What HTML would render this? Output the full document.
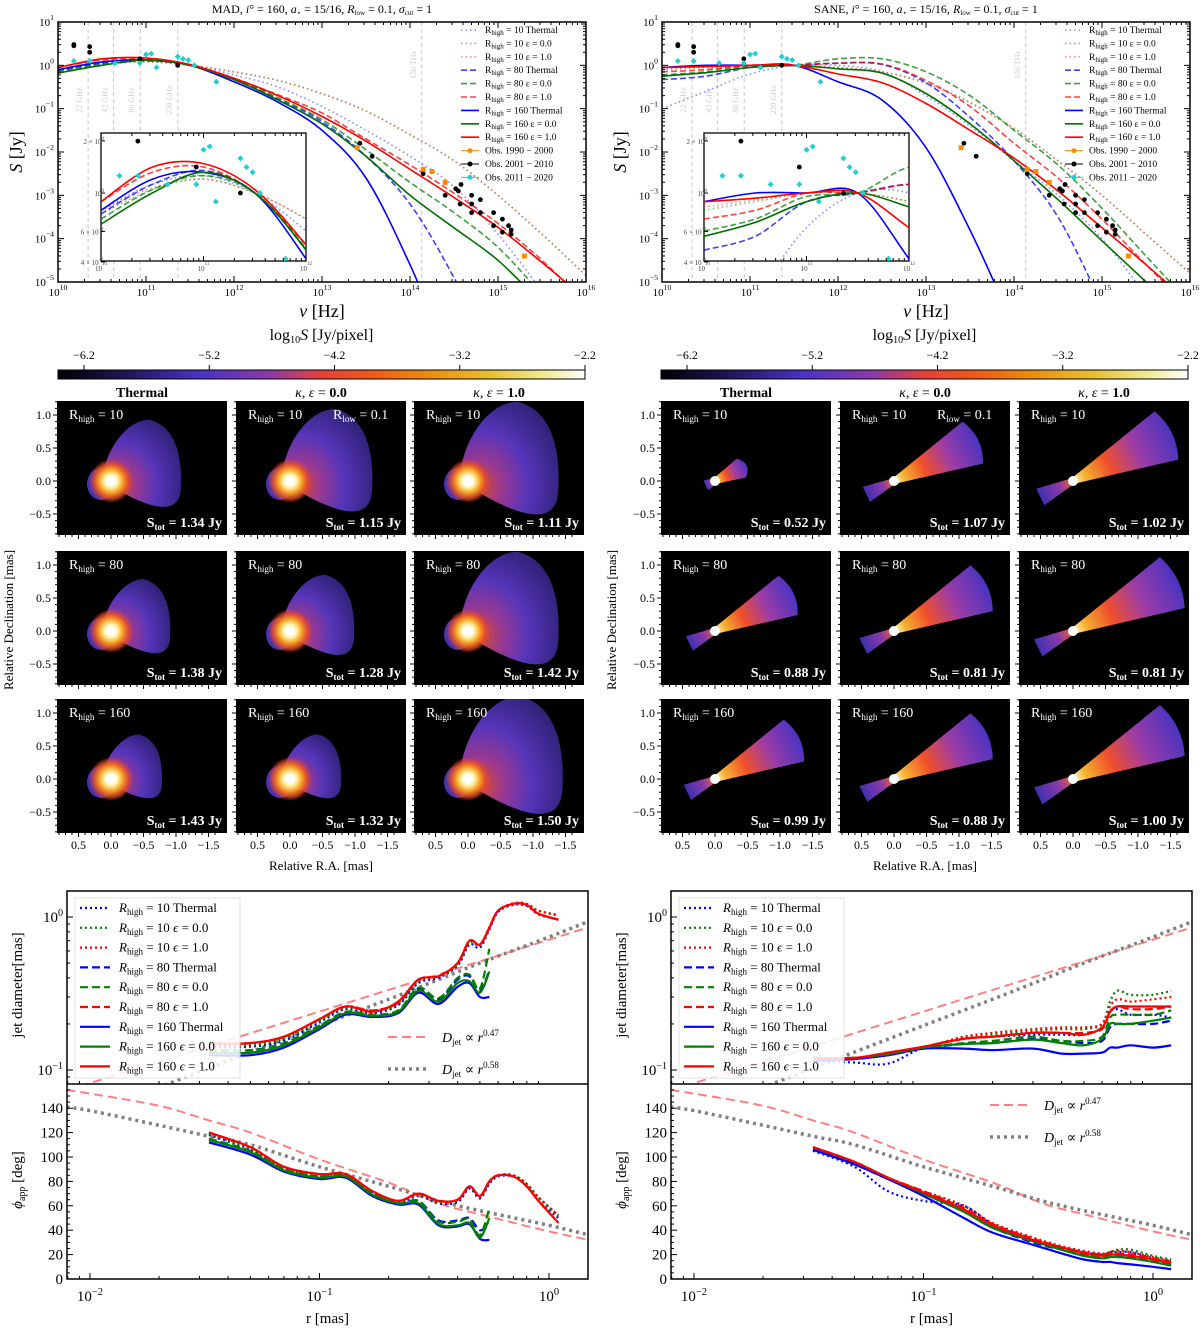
<!DOCTYPE html>
<html><head><meta charset="utf-8"><title>M87 jet models</title>
<style>
html,body{margin:0;padding:0;background:#fff;}
svg{display:block;font-family:"Liberation Serif","DejaVu Serif",serif;}
</style></head>
<body>
<svg id="fig" xmlns="http://www.w3.org/2000/svg" width="1200" height="1331" viewBox="0 0 1200 1331">
<defs>
<linearGradient id="cbar" x1="0" x2="1" y1="0" y2="0">
<stop offset="0" stop-color="#000004"/><stop offset="0.12" stop-color="#1c1450"/><stop offset="0.27" stop-color="#4a32c8"/>
<stop offset="0.4" stop-color="#8a3aa8"/><stop offset="0.5" stop-color="#e8403a"/><stop offset="0.6" stop-color="#f05a18"/>
<stop offset="0.7" stop-color="#ec8c08"/><stop offset="0.82" stop-color="#e8c030"/><stop offset="0.93" stop-color="#f2ec9c"/><stop offset="1" stop-color="#ffffff"/>
</linearGradient>
<radialGradient id="fanG" cx="0.2" cy="0.75" r="0.9">
<stop offset="0" stop-color="#e8502a"/><stop offset="0.25" stop-color="#a23c98"/><stop offset="0.55" stop-color="#5a38c4"/><stop offset="1" stop-color="#3a2890" stop-opacity="0.85"/>
</radialGradient>
<radialGradient id="coreG">
<stop offset="0" stop-color="#ffffff"/><stop offset="0.3" stop-color="#fff4b0"/><stop offset="0.55" stop-color="#f5a020"/><stop offset="0.8" stop-color="#e84a2a" stop-opacity="0.8"/><stop offset="1" stop-color="#e84a2a" stop-opacity="0"/>
</radialGradient>
<linearGradient id="jetG" x1="0" x2="1" y1="0" y2="0">
<stop offset="0" stop-color="#fff6c0"/><stop offset="0.12" stop-color="#f4b030"/><stop offset="0.35" stop-color="#f0502a"/><stop offset="0.65" stop-color="#9a3ca8"/><stop offset="1" stop-color="#4a34c0"/>
</linearGradient>
<linearGradient id="cjetG" x1="1" x2="0" y1="0" y2="0">
<stop offset="0" stop-color="#f06030"/><stop offset="0.4" stop-color="#8a3aa8"/><stop offset="1" stop-color="#4030b0"/>
</linearGradient>
</defs>
</svg>
<script>
// ---------------- DATA ----------------
const nuGrid = [10,10.5,11,11.5,12,12.5,13,13.5,14,14.5,15,15.5,16];
const seriesNames = ["R10 Thermal","R10 e0","R10 e1","R80 Thermal","R80 e0","R80 e1","R160 Thermal","R160 e0","R160 e1"];
const madSED_r10th = [-0.1,0.05,0.1,0.0,-0.22,-0.5,-0.95,-1.5,-2.1,-2.8,-3.9,-5.2,-6.5];
const madSED_r10e0 = [-0.12,0.02,0.08,0.0,-0.15,-0.35,-0.65,-1.05,-1.6,-2.2,-3.0,-3.9,-4.85];
const madSED_r10e1 = [-0.1,0.03,0.08,0.0,-0.15,-0.35,-0.66,-1.06,-1.6,-2.2,-3.0,-3.9,-4.85];
const madSED_r80th = [-0.12,0.05,0.13,0.0,-0.33,-0.78,-1.3,-2.1,-3.2,-4.9,-7,-9,-11];
const madSED_r80e0 = [-0.15,0.02,0.1,0.0,-0.32,-0.75,-1.25,-1.95,-2.7,-3.4,-4.2,-5.3,-6.5];
const madSED_r80e1 = [-0.05,0.12,0.15,0.0,-0.3,-0.68,-1.1,-1.7,-2.3,-2.95,-3.65,-4.5,-5.5];
const madSED_r160th = [-0.1,0.08,0.12,0.0,-0.38,-0.85,-1.5,-2.6,-4.6,-7,-9,-11,-13];
const madSED_r160e0 = [-0.18,0.0,0.12,0.0,-0.33,-0.8,-1.35,-2.1,-3.0,-3.75,-4.5,-5.5,-6.5];
const madSED_r160e1 = [-0.05,0.15,0.17,0.02,-0.3,-0.7,-1.18,-1.75,-2.4,-3.05,-3.74,-4.55,-5.4];
const saneSED_r10th = [-1.0,-0.6,-0.2,0.0,0.0,-0.15,-0.7,-1.4,-2.2,-3.0,-4.0,-5.3,-6.5];
const saneSED_r10e0 = [-0.1,-0.05,0.0,0.0,-0.05,-0.15,-0.4,-0.85,-1.45,-2.2,-3.0,-3.9,-4.8];
const saneSED_r10e1 = [-0.08,-0.04,0.0,0.0,-0.05,-0.15,-0.42,-0.87,-1.47,-2.2,-3.0,-3.9,-4.8];
const saneSED_r80th = [-0.33,-0.25,-0.05,0.0,0.05,0.02,-0.4,-1.2,-2.2,-3.5,-5.5,-7.5,-9.5];
const saneSED_r80e0 = [-0.22,-0.15,-0.02,0.0,0.15,0.15,-0.15,-0.7,-1.5,-2.3,-3.3,-4.4,-5.5];
const saneSED_r80e1 = [-0.15,-0.1,0.0,0.0,0.05,0.03,-0.35,-0.95,-1.8,-2.6,-3.55,-4.6,-5.6];
const saneSED_r160th = [-0.05,0.0,0.0,0.0,-0.38,-0.8,-1.9,-3.8,-6,-8,-10,-12,-14];
const saneSED_r160e0 = [-0.25,-0.17,-0.05,0.0,-0.08,-0.18,-0.65,-1.35,-2.2,-3.1,-4.05,-5.0,-6];
const saneSED_r160e1 = [-0.05,-0.03,0.0,0.0,-0.2,-0.4,-0.88,-1.5,-2.14,-2.9,-3.75,-4.6,-5.5];
// observations (log nu, log S)
const obsBlackNu = [10.18,10.18,10.36,10.36,10.93,11.36,13.43,13.57,14.15,14.4,14.52,14.55,14.57,14.58,14.7,14.7,14.7,14.8,14.8,14.95,14.95,15.05,15.05,15.12,15.15,15.15];
const obsBlackS  = [0.45,0.48,0.43,0.3,0.15,0.0,-1.8,-2.1,-2.5,-3.0,-2.85,-2.9,-3.2,-2.75,-3.0,-3.2,-3.4,-3.1,-3.4,-3.4,-3.7,-3.55,-3.85,-3.7,-3.9,-3.8];
const obsOrangeNu = [13.4,14.15,14.25,14.4,15.3];
const obsOrangeS  = [-1.9,-2.4,-2.45,-2.7,-4.4];
const obsCyanNu = [10.18,10.36,10.65,10.93,11.0,11.06,11.12,11.36,11.42,11.48,11.55,11.8];
const obsCyanS  = [0.1,0.1,0.05,0.05,0.25,0.27,-0.05,0.2,0.15,0.12,0.0,-0.38];
const refFreqs = [10.342,10.633,10.934,11.362,14.134];
const refFreqLabels = ["22 GHz","43 GHz","86 GHz","230 GHz","136 THz"];
// images
const madStot = ["1.34","1.15","1.11","1.38","1.28","1.42","1.43","1.32","1.50"];
const saneStot = ["0.52","1.07","1.02","0.88","0.81","0.81","0.99","0.88","1.00"];
const rhighVals = ["10","80","160"];
const madFanSize = [0.85,1.0,1.1,0.72,0.78,1.1,0.62,0.62,1.15];
const saneJetLen = [0.45,1.35,1.6,1.25,1.5,1.7,1.35,1.5,1.7];
// jet diameter / opening angle
const rLeft = [0.033,0.05,0.07,0.1,0.13,0.17,0.22,0.27,0.33,0.4,0.45,0.5,0.55,0.6,0.7,0.8,0.9,1.1];
const madD_r10th = [0.14,0.142,0.155,0.205,0.25,0.235,0.265,0.37,0.4,0.48,0.66,0.63,0.83,1.08,1.2,1.18,1.04,0.96];
const madD_r10e0 = [0.145,0.145,0.16,0.21,0.255,0.24,0.27,0.38,0.405,0.49,0.68,0.65,0.85,1.1,1.22,1.22,1.1,1.02];
const madD_r10e1 = [0.15,0.15,0.165,0.215,0.26,0.245,0.275,0.39,0.41,0.5,0.7,0.66,0.86,1.1,1.23,1.22,1.1,1.03];
const madD_r80th = [0.13,0.13,0.145,0.19,0.235,0.228,0.24,0.34,0.29,0.39,0.41,0.33,0.45,null,null,null,null,null];
const madD_r80e0 = [0.135,0.135,0.15,0.195,0.24,0.23,0.245,0.345,0.295,0.4,0.42,0.34,0.62,null,null,null,null,null];
const madD_r80e1 = [0.148,0.15,0.165,0.215,0.26,0.245,0.275,0.39,0.41,0.5,0.7,0.66,0.85,1.1,1.22,1.2,1.05,0.96];
const madD_r160th = [0.125,0.125,0.14,0.185,0.23,0.222,0.235,0.32,0.27,0.35,0.37,0.3,0.3,null,null,null,null,null];
const madD_r160e0 = [0.13,0.13,0.145,0.19,0.235,0.226,0.24,0.33,0.28,0.37,0.38,0.32,0.44,null,null,null,null,null];
const madD_r160e1 = [0.148,0.15,0.165,0.215,0.26,0.24,0.28,0.39,0.41,0.5,0.7,0.66,0.85,1.1,1.22,1.2,1.05,0.96];
const madP_r10th = [118,106,90,84,84,70,62,68,62,63,74,66,78,84,84,76,64,50];
const madP_r10e0 = [119,107,91,85,85,71,63,69,63,64,75,67,79,85,85,78,67,52];
const madP_r10e1 = [120,108,92,86,86,72,64,70,64,65,76,68,80,85,85,78,67,52];
const madP_r80th = [114,104,89,83,84,70,62,64,48,48,50,40,45,null,null,null,null,null];
const madP_r80e0 = [115,105,90,84,85,70,62,64,47,47,49,36,58,null,null,null,null,null];
const madP_r80e1 = [120,108,92,86,86,72,64,70,64,65,76,68,80,85,84,76,64,46];
const madP_r160th = [112,102,88,82,83,68,61,61,44,43,45,33,32,null,null,null,null,null];
const madP_r160e0 = [114,104,89,83,84,69,62,62,45,44,46,34,50,null,null,null,null,null];
const madP_r160e1 = [120,108,92,86,86,72,64,70,64,65,76,68,80,85,84,76,64,46];
const rRight = [0.033,0.05,0.07,0.1,0.15,0.2,0.3,0.4,0.5,0.6,0.65,0.7,0.8,1.0,1.2];
const saneD_r10th = [0.115,0.112,0.11,0.14,0.16,0.165,0.17,0.17,0.17,0.19,0.24,0.25,0.23,0.23,0.22];
const saneD_r10e0 = [0.12,0.12,0.125,0.14,0.165,0.17,0.18,0.185,0.185,0.2,0.28,0.33,0.31,0.31,0.33];
const saneD_r10e1 = [0.12,0.12,0.125,0.14,0.165,0.175,0.185,0.19,0.19,0.2,0.26,0.29,0.28,0.29,0.3];
const saneD_r80th = [0.115,0.118,0.125,0.138,0.148,0.15,0.16,0.155,0.15,0.155,0.19,0.2,0.2,0.2,0.21];
const saneD_r80e0 = [0.12,0.12,0.127,0.14,0.15,0.155,0.165,0.155,0.155,0.165,0.22,0.23,0.23,0.23,0.245];
const saneD_r80e1 = [0.12,0.12,0.128,0.142,0.16,0.165,0.175,0.175,0.175,0.185,0.24,0.26,0.25,0.25,0.26];
const saneD_r160th = [0.115,0.118,0.125,0.138,0.138,0.135,0.138,0.128,0.128,0.13,0.14,0.14,0.145,0.14,0.145];
const saneD_r160e0 = [0.12,0.12,0.127,0.14,0.148,0.15,0.158,0.15,0.145,0.16,0.2,0.2,0.2,0.21,0.22];
const saneD_r160e1 = [0.12,0.12,0.13,0.142,0.16,0.165,0.175,0.175,0.17,0.19,0.24,0.26,0.26,0.26,0.26];
const saneP_r10th = [105,92,72,64,60,45,32,26,22,20,22,22,22,17,14];
const saneP_r10e0 = [108,96,83,72,60,45,33,26,22,20,22,24,24,19,16];
const saneP_r10e1 = [108,96,83,72,60,46,34,27,23,21,22,23,22,18,15];
const saneP_r80th = [106,94,82,70,56,42,30,24,19,17,18,19,18,15,12];
const saneP_r80e0 = [108,96,83,71,57,43,31,25,20,18,19,20,19,16,13];
const saneP_r80e1 = [108,96,83,72,58,45,33,26,22,20,21,21,20,17,14];
const saneP_r160th = [106,94,82,68,50,38,28,21,16,14,14,13,12,10,8];
const saneP_r160e0 = [108,96,83,70,55,42,31,24,19,17,18,18,17,14,11];
const saneP_r160e1 = [108,96,83,71,57,44,32,26,21,19,20,20,19,16,13];
const refR = [0.0079,0.01,0.02,0.033,0.05,0.1,0.2,0.33,0.5,1.0,1.5];
const refDred = [0.073,0.082,0.113,0.143,0.174,0.241,0.334,0.422,0.513,0.711,0.86];
const refDgray = [0.045,0.051,0.077,0.103,0.131,0.195,0.29,0.39,0.50,0.74,0.94];
const refPhiRed = [155,152,142,130,120,98,79,62,53,39,32];
const refPhiGray = [141,138,126,117,110,92,76,64,56,44,36];

// ---------------- HELPERS ----------------
const NS = "http://www.w3.org/2000/svg";
const svg = document.getElementById('fig');
function el(tag, attrs, parent){ const e=document.createElementNS(NS,tag); for(const k in attrs) e.setAttribute(k,attrs[k]); (parent||svg).appendChild(e); return e; }
function nm(e, name){
  
  
  return e;
}
function txt(x,y,html,size,anchor,parent,extra){ const t=el('text',Object.assign({x:x,y:y,'font-size':size,'text-anchor':anchor||'middle',fill:'#000'},extra||{}),parent); t.innerHTML=html; return t; }
function crPath(pts){
  if(pts.length<2) return '';
  let d='M'+pts[0][0].toFixed(1)+','+pts[0][1].toFixed(1);
  for(let i=0;i<pts.length-1;i++){
    const p0=pts[i-1]||pts[i], p1=pts[i], p2=pts[i+1], p3=pts[i+2]||p2;
    const c1x=p1[0]+(p2[0]-p0[0])/6, c1y=p1[1]+(p2[1]-p0[1])/6, c2x=p2[0]-(p3[0]-p1[0])/6, c2y=p2[1]-(p3[1]-p1[1])/6;
    d+=' C'+c1x.toFixed(1)+','+c1y.toFixed(1)+' '+c2x.toFixed(1)+','+c2y.toFixed(1)+' '+p2[0].toFixed(1)+','+p2[1].toFixed(1);
  }
  return d;
}
const sup = (b,e)=> b+'<tspan dy="-6" font-size="0.7em">'+e+'</tspan>';
const styles = [
 {c:'#3a3aff',dash:'1.5,3',op:0.6},{c:'#1e9a1e',dash:'1.5,3',op:0.6},{c:'#ff4040',dash:'1.5,3',op:0.6},
 {c:'#0000ff',dash:'6,3',op:0.75},{c:'#008000',dash:'6,3',op:0.75},{c:'#ff0000',dash:'6,3',op:0.75},
 {c:'#0000ff',dash:'',op:1},{c:'#007000',dash:'',op:1},{c:'#ff0000',dash:'',op:1}];
const legendLabels = ["10 Thermal","10 ε = 0.0","10 ε = 1.0","80 Thermal","80 ε = 0.0","80 ε = 1.0","160 Thermal","160 ε = 0.0","160 ε = 1.0"];
let clipId=0;
function clip(x,y,w,h){ const id='cp'+(clipId++); const cp=el('clipPath',{id:id},svg.querySelector('defs')); el('rect',{x:x,y:y,width:w,height:h},cp); return 'url(#'+id+')'; }

// ---------------- SED PANEL ----------------
function drawSED(ox, title, series, prefix, inset){
  const g=nm(el('g',{}), prefix+'-sed-panel');
  const L=ox, R=ox+528, T=22, B=282;
  const X=l=>L+(l-10)*(R-L)/6, Y=s=>T+(1-s)*(B-T)/6;
  nm(txt((L+R)/2,13,title,12,'middle',g),prefix+'-sed-title');
  refFreqs.forEach((f,i)=>{
    const ln=el('line',{x1:X(f),x2:X(f),y1:T,y2:B,stroke:'#bbb','stroke-width':0.8,'stroke-dasharray':'4,3'},g);
    nm(ln,'ref-line-'+refFreqLabels[i].replace(' ','-'));
    const yl = i<4?100:65;
    nm(txt(X(f)-6,yl,refFreqLabels[i],8,'middle',g,{fill:'#ccc',transform:'rotate(-90 '+(X(f)-6)+' '+yl+')'}),'ref-label');
  });
  const cpath=clip(L,T,R-L,B-T);
  const cg=el('g',{'clip-path':cpath},g);
  series.forEach((s,i)=>{
    const pts=nuGrid.map((n,j)=>[X(n),Y(s[j])]);
    const p=el('path',{d:crPath(pts),fill:'none',stroke:styles[i].c,'stroke-width':1.6,'stroke-dasharray':styles[i].dash,opacity:styles[i].op},cg);
    nm(p,prefix+'-sed-'+seriesNames[i].replace(/ /g,'-').toLowerCase());
  });
  drawObs(cg,X,Y,prefix);
  nm(el('rect',{x:L,y:T,width:R-L,height:B-T,fill:'none',stroke:'#000','stroke-width':1.5},g),prefix+'-sed-frame');
  for(let d=10;d<=16;d++){
    el('line',{x1:X(d),x2:X(d),y1:B,y2:B-6,stroke:'#000'},g); el('line',{x1:X(d),x2:X(d),y1:T,y2:T+6,stroke:'#000'},g);
    nm(txt(X(d),B+14,sup('10',d),11,'middle',g),'x-tick-label');
    if(d<16) for(let m=2;m<10;m++){ const xx=X(d+Math.log10(m)); el('line',{x1:xx,x2:xx,y1:B,y2:B-3,stroke:'#000'},g); el('line',{x1:xx,x2:xx,y1:T,y2:T+3,stroke:'#000'},g);}
  }
  for(let e=-5;e<=1;e++){
    el('line',{x1:L,x2:L+6,y1:Y(e),y2:Y(e),stroke:'#000'},g); el('line',{x1:R,x2:R-6,y1:Y(e),y2:Y(e),stroke:'#000'},g);
    nm(txt(L-4,Y(e)+4,sup('10',e<0?'−'+(-e):e),11,'end',g),'y-tick-label');
    if(e<1) for(let m=2;m<10;m++){ const yy=Y(e+Math.log10(m)); el('line',{x1:L,x2:L+3,y1:yy,y2:yy,stroke:'#000'},g); el('line',{x1:R,x2:R-3,y1:yy,y2:yy,stroke:'#000'},g);}
  }
  nm(txt((L+R)/2,317,'<tspan font-style="italic">ν</tspan> [Hz]',18,'middle',g),prefix+'-x-axis-title');
  nm(txt(ox-36,152,'<tspan font-style="italic">S</tspan> [Jy]',18,'middle',g,{transform:'rotate(-90 '+(ox-36)+' 152)'}),prefix+'-y-axis-title');
  const lx=R-125;
  series.forEach((s,i)=>{
    const y=33+i*13.4;
    nm(el('line',{x1:lx,x2:lx+18,y1:y-3,y2:y-3,stroke:styles[i].c,'stroke-width':1.6,'stroke-dasharray':styles[i].dash,opacity:styles[i].op},g),'legend-swatch');
    nm(txt(lx+24,y,'R<tspan font-size="7" dy="2">high</tspan><tspan dy="-2"> = '+legendLabels[i]+'</tspan>',9.5,'start',g),'legend-entry');
  });
  const obsL=[['#ff8c00','Obs. 1990 − 2000'],['#000','Obs. 2001 − 2010'],['#20d0d0','Obs. 2011 − 2020']];
  obsL.forEach((o,i)=>{ const y=33+(9+i)*13.4;
    el('line',{x1:lx,x2:lx+18,y1:y-3,y2:y-3,stroke:o[0],'stroke-width':1},g); el('circle',{cx:lx+9,cy:y-3,r:2.5,fill:o[0]},g);
    nm(txt(lx+24,y,o[1],9.5,'start',g),'legend-entry-obs'); });
  const iL=inset, iR=inset+205, iT=133, iB=261;
  const IX=l=>iL+(l-10)*(iR-iL)/2, IY=s=>iT+(0.347-s)*173;
  nm(el('rect',{x:iL,y:iT,width:iR-iL,height:iB-iT,fill:'#fff',stroke:'#000','stroke-width':1.3},g),prefix+'-inset');
  const ig=el('g',{'clip-path':clip(iL,iT,iR-iL,iB-iT)},g);
  series.forEach((s,i)=>{
    const pts=nuGrid.slice(0,6).map((n,j)=>[IX(n),IY(s[j])]);
    const p=el('path',{d:crPath(pts),fill:'none',stroke:styles[i].c,'stroke-width':1.6,'stroke-dasharray':styles[i].dash,opacity:styles[i].op},ig);
    nm(p,prefix+'-inset-'+seriesNames[i].replace(/ /g,'-').toLowerCase());
  });
  drawObs(ig,IX,IY,prefix);
  for(let d=10;d<=12;d++){ nm(txt(IX(d),iB+10,sup('10',d),7,'middle',g,{fill:'#444'}),'inset-x-tick');
    if(d<12) for(let m=1;m<10;m++){ const xx=IX(d+Math.log10(m)); el('line',{x1:xx,x2:xx,y1:iB,y2:iB-(m==1?5:3),stroke:'#000'},g); el('line',{x1:xx,x2:xx,y1:iT,y2:iT+(m==1?5:3),stroke:'#000'},g);} }
  [[0.301,'2 × 10<tspan dy="-4" font-size="5">0</tspan>'],[0,'10<tspan dy="-4" font-size="5">0</tspan>'],[-0.222,'6 × 10<tspan dy="-4" font-size="5">−1</tspan>'],[-0.398,'4 × 10<tspan dy="-4" font-size="5">−1</tspan>']].forEach(t=>{
    el('line',{x1:iL,x2:iL+4,y1:IY(t[0]),y2:IY(t[0]),stroke:'#000'},g);
    nm(txt(iL+3,IY(t[0])+3,t[1],7,'end',g,{fill:'#444'}),'inset-y-tick'); });
}
function drawObs(g,X,Y,prefix){
  obsBlackNu.forEach((n,i)=>{ const c=el('circle',{cx:X(n),cy:Y(obsBlackS[i]),r:2.4,fill:'#000'},g);
    nm(c,'obs-2001-2010'); });
  obsOrangeNu.forEach((n,i)=>{ const c=el('rect',{x:X(n)-2.5,y:Y(obsOrangeS[i])-2.5,width:5,height:5,fill:'#ff8c00'},g);
    nm(c,'obs-1990-2000'); });
  obsCyanNu.forEach((n,i)=>{ const c=el('path',{d:'M'+X(n)+','+(Y(obsCyanS[i])-3)+' l3,3 l-3,3 l-3,-3z',fill:'#20d0d0'},g);
    nm(c,'obs-2011-2020'); });
}
drawSED(58,'MAD, <tspan font-style="italic">i</tspan>° = 160, <tspan font-style="italic">a</tspan><tspan font-size="7" dy="2">⋆</tspan><tspan dy="-2"> = 15/16, </tspan><tspan font-style="italic">R</tspan><tspan font-size="7" dy="2">low</tspan><tspan dy="-2"> = 0.1, </tspan><tspan font-style="italic">σ</tspan><tspan font-size="7" dy="2">cut</tspan><tspan dy="-2"> = 1</tspan>',
  [madSED_r10th,madSED_r10e0,madSED_r10e1,madSED_r80th,madSED_r80e0,madSED_r80e1,madSED_r160th,madSED_r160e0,madSED_r160e1],'mad',101);
drawSED(662,'SANE, <tspan font-style="italic">i</tspan>° = 160, <tspan font-style="italic">a</tspan><tspan font-size="7" dy="2">⋆</tspan><tspan dy="-2"> = 15/16, </tspan><tspan font-style="italic">R</tspan><tspan font-size="7" dy="2">low</tspan><tspan dy="-2"> = 0.1, </tspan><tspan font-style="italic">σ</tspan><tspan font-size="7" dy="2">cut</tspan><tspan dy="-2"> = 1</tspan>',
  [saneSED_r10th,saneSED_r10e0,saneSED_r10e1,saneSED_r80th,saneSED_r80e0,saneSED_r80e1,saneSED_r160th,saneSED_r160e0,saneSED_r160e1],'sane',704);

// ---------------- COLORBARS & IMAGES ----------------
const cbTicks = ["−6.2","−5.2","−4.2","−3.2","−2.2"];
function drawImages(ox, cols, prefix, isMad){
  const g=nm(el('g',{}),prefix+'-image-grid');
  const cbL=ox, cbR=ox+527;
  nm(txt((cbL+cbR)/2,340,'log<tspan font-size="10" dy="3">10</tspan><tspan dy="-3" font-style="italic">S</tspan> [Jy/pixel]',16,'middle',g),prefix+'-colorbar-label');
  nm(el('rect',{x:cbL,y:370,width:cbR-cbL,height:9,fill:'url(#cbar)',stroke:'#000','stroke-width':1},g),prefix+'-colorbar');
  cbTicks.forEach((t,i)=>{ const x=cbL+26+i*(cbR-cbL-26)/4; el('line',{x1:x,x2:x,y1:365,y2:370,stroke:'#000'},g);
    nm(txt(x,359,t,12,'middle',g),'colorbar-tick'); });
  const heads=['<tspan font-weight="bold">Thermal</tspan>','<tspan font-style="italic">κ</tspan>, <tspan font-style="italic">ε</tspan> = <tspan font-weight="bold">0.0</tspan>','<tspan font-style="italic">κ</tspan>, <tspan font-style="italic">ε</tspan> = <tspan font-weight="bold">1.0</tspan>'];
  const rows=[401,551,699], W=170, H=134;
  cols.forEach((cx,ci)=>{ nm(txt(cx+W/2,397,heads[ci],14,'middle',g),'column-title'); });
  rows.forEach((ry,ri)=>cols.forEach((cx,ci)=>{
    const k=ri*3+ci;
    const pg=nm(el('g',{'clip-path':clip(cx,ry,W,H)},g),prefix+'-image-r'+rhighVals[ri]+'-c'+ci);
    el('rect',{x:cx,y:ry,width:W,height:H,fill:'#000'},pg);
    const ox0=cx+54, oy0=ry+80;
    if(isMad){
      const s=madFanSize[k];
      const fan=el('path',{d:`M${ox0-8},${oy0-6} C${ox0-4},${oy0-40*s} ${ox0+20*s},${oy0-72*s} ${ox0+45*s},${oy0-72*s} C${ox0+70*s},${oy0-66*s} ${ox0+85*s},${oy0-40*s} ${ox0+82*s},${oy0+10*s} C${ox0+80*s},${oy0+40*s} ${ox0+50*s},${oy0+35*s} ${ox0+5},${oy0+8} Z`,fill:'url(#fanG)',opacity:0.95},pg);
      nm(fan,'emission-fan');
      el('ellipse',{cx:ox0-10,cy:oy0+3,rx:14,ry:16,fill:'#5038c0',opacity:0.9},pg);
      nm(el('circle',{cx:ox0,cy:oy0,r:22,fill:'url(#coreG)'},pg),'core');
      el('circle',{cx:ox0,cy:oy0,r:5,fill:'#fff'},pg);
    } else {
      const Lj=saneJetLen[k]*65, w=Lj*0.22+4;
      const jg=el('g',{transform:`rotate(-26 ${ox0} ${oy0})`},pg);
      nm(el('path',{d:`M${ox0},${oy0-3} L${ox0+Lj},${oy0-w} Q${ox0+Lj+12},${oy0} ${ox0+Lj},${oy0+w} L${ox0},${oy0+3} Z`,fill:'url(#jetG)'},jg),'jet');
      nm(el('path',{d:`M${ox0},${oy0-3} L${ox0-Lj*0.35},${oy0-4-Lj*0.05} L${ox0-Lj*0.35},${oy0+4+Lj*0.05} L${ox0},${oy0+3} Z`,fill:'url(#cjetG)'},jg),'counter-jet');
      el('circle',{cx:ox0,cy:oy0,r:5,fill:'#fff'},pg);
    }
    nm(txt(cx+12,ry+18,'R<tspan font-size="9" dy="3">high</tspan><tspan dy="-3"> = '+rhighVals[ri]+'</tspan>',14,'start',g,{fill:'#fff'}),'rhigh-label');
    if(ri==0&&ci==1) nm(txt(cx+97,ry+18,'R<tspan font-size="9" dy="3">low</tspan><tspan dy="-3"> = 0.1</tspan>',14,'start',g,{fill:'#fff'}),'rlow-label');
    nm(txt(cx+W-5,ry+H-8,'S<tspan font-size="9" dy="3">tot</tspan><tspan dy="-3"> = '+(isMad?madStot[k]:saneStot[k])+' Jy</tspan>',14,'end',g,{fill:'#fff','font-weight':'bold'}),'stot-label');
    for(let v=-0.8;v<=1.2;v+=0.1){ const yy=oy0-v*66; if(yy>ry&&yy<ry+H) el('line',{x1:cx-(Math.abs(v*2-Math.round(v*2))<0.01?4:2),x2:cx,y1:yy,y2:yy,stroke:'#000'},g); }
    for(let v=0.8;v>=-1.7;v-=0.1){ const xx=ox0-v*65; if(xx>cx&&xx<cx+W) el('line',{x1:xx,x2:xx,y1:ry+H,y2:ry+H+(Math.abs(v*2-Math.round(v*2))<0.01?4:2),stroke:'#000'},g); }
    if(ci==0) ['1.0','0.5','0.0','−0.5'].forEach((t,i)=>nm(txt(cx-6,oy0-(1-i*0.5)*66+4,t,12,'end',g),'y-tick-label'));
    if(ri==2) ['0.5','0.0','−0.5','−1.0','−1.5'].forEach((t,i)=>nm(txt(ox0-(0.5-i*0.5)*65,ry+H+16,t,12,'middle',g),'x-tick-label'));
  }));
  nm(txt(cols[1]+85,870,'Relative R.A. [mas]',13,'middle',g),prefix+'-ra-title');
  nm(txt(ox-45,620,'Relative Declination [mas]',13,'middle',g,{transform:'rotate(-90 '+(ox-45)+' 620)'}),prefix+'-dec-title');
}
drawImages(58,[57,236,414],'mad',true);
drawImages(661,[661,840,1019],'sane',false);

// ---------------- JET WIDTH PANELS ----------------
function drawJet(ox, rArr, dSeries, pSeries, prefix, djLegendTop){
  const g=nm(el('g',{}),prefix+'-jet-panel');
  const L=ox, R=ox+521, T1=891, B1=1084, B2=1279;
  const X=r=>L+(Math.log10(r)+2.1)*(R-L)/2.27;
  const YD=d=>917-Math.log10(d)*153, YP=p=>B2-p*1.22;
  const c1=el('g',{'clip-path':clip(L,T1,R-L,B1-T1)},g), c2=el('g',{'clip-path':clip(L,B1,R-L,B2-B1)},g);
  nm(el('path',{d:crPath(refR.map((r,i)=>[X(r),YD(refDred[i])])),fill:'none',stroke:'#ff8080','stroke-width':2,'stroke-dasharray':'9,5'},c1),'fit-r047');
  nm(el('path',{d:crPath(refR.map((r,i)=>[X(r),YD(refDgray[i])])),fill:'none',stroke:'#808080','stroke-width':3.5,'stroke-dasharray':'3,4'},c1),'fit-r058');
  nm(el('path',{d:crPath(refR.map((r,i)=>[X(r),YP(refPhiRed[i])])),fill:'none',stroke:'#ff8080','stroke-width':2,'stroke-dasharray':'9,5'},c2),'phi-fit-r047');
  nm(el('path',{d:crPath(refR.map((r,i)=>[X(r),YP(refPhiGray[i])])),fill:'none',stroke:'#808080','stroke-width':3.5,'stroke-dasharray':'3,4'},c2),'phi-fit-r058');
  const jstyle=['2,3','2,3','2,3','8,4','8,4','8,4','','',''];
  const jcol=['#0000ff','#008000','#ff0000','#0000ff','#008000','#ff0000','#0000ff','#008000','#ff0000'];
  [dSeries,pSeries].forEach((S,k)=>S.forEach((s,i)=>{
    const pts=[]; rArr.forEach((r,j)=>{ if(s[j]!=null) pts.push([X(r), k==0?YD(s[j]):YP(s[j])]); });
    const p=el('path',{d:crPath(pts),fill:'none',stroke:jcol[i],'stroke-width':2.2,'stroke-dasharray':jstyle[i]},k==0?c1:c2);
    nm(p,prefix+(k==0?'-diam-':'-phi-')+seriesNames[i].replace(/ /g,'-').toLowerCase());
  }));
  nm(el('rect',{x:L,y:T1,width:R-L,height:B2-T1,fill:'none',stroke:'#000','stroke-width':1.5},g),prefix+'-jet-frame');
  el('line',{x1:L,x2:R,y1:B1,y2:B1,stroke:'#000','stroke-width':1.5},g);
  for(let d=-2;d<=0;d++){ el('line',{x1:X(Math.pow(10,d)),x2:X(Math.pow(10,d)),y1:B2,y2:B2-6,stroke:'#000'},g);
    nm(txt(X(Math.pow(10,d)),B2+22,sup('10',d<0?'−'+(-d):d),15,'middle',g),'x-tick-label'); }
  for(let d=-3;d<=0;d++) for(let m=2;m<10;m++){ const r=m*Math.pow(10,d); if(r>0.0079&&r<1.5){ el('line',{x1:X(r),x2:X(r),y1:B2,y2:B2-3,stroke:'#000'},g); el('line',{x1:X(r),x2:X(r),y1:B1,y2:B1-3,stroke:'#000'},g);} }
  nm(txt((L+R)/2,1323,'r [mas]',15,'middle',g),prefix+'-x-axis-title');
  [[1,'10<tspan dy="-6" font-size="10">0</tspan>'],[0.1,'10<tspan dy="-6" font-size="10">−1</tspan>']].forEach(t=>{ el('line',{x1:L,x2:L+6,y1:YD(t[0]),y2:YD(t[0]),stroke:'#000'},g);
    nm(txt(L-4,YD(t[0])+5,t[1],15,'end',g),'y-tick-label'); });
  for(let m=2;m<10;m++){ const y=YD(m/10); el('line',{x1:L,x2:L+3,y1:y,y2:y,stroke:'#000'},g); }
  el('line',{x1:L,x2:L+3,y1:YD(0.09),y2:YD(0.09),stroke:'#000'},g);
  for(let p=0;p<=155;p+=5){ el('line',{x1:L,x2:L+(p%20==0?6:3),y1:YP(p),y2:YP(p),stroke:'#000'},g);
    if(p%20==0) nm(txt(L-4,YP(p)+5,''+p,15,'end',g),'y-tick-label'); }
  nm(txt(ox-45,985,'jet diameter[mas]',15,'middle',g,{transform:'rotate(-90 '+(ox-45)+' 985)'}),prefix+'-diam-title');
  nm(txt(ox-45,1180,'<tspan font-style="italic">ϕ</tspan><tspan font-size="10" dy="3">app</tspan><tspan dy="-3"> [deg]</tspan>',15,'middle',g,{transform:'rotate(-90 '+(ox-45)+' 1180)'}),prefix+'-phi-title');
  nm(el('rect',{x:L+8,y:898,width:165,height:180,fill:'#fff',stroke:'#ddd',opacity:0.85},g),prefix+'-legend-box');
  seriesNames.forEach((s,i)=>{ const y=912+i*19.8;
    nm(el('line',{x1:L+13,x2:L+43,y1:y-4,y2:y-4,stroke:jcol[i],'stroke-width':2.2,'stroke-dasharray':jstyle[i]},g),'legend-swatch');
    nm(txt(L+52,y,'<tspan font-style="italic">R</tspan><tspan font-size="9" dy="3">high</tspan><tspan dy="-3"> = '+legendLabels[i].replace('ε','<tspan font-style="italic">ϵ</tspan>')+'</tspan>',13,'start',g),'legend-entry'); });
  const dl=djLegendTop;
  nm(el('line',{x1:dl[0],x2:dl[0]+42,y1:dl[1]-5,y2:dl[1]-5,stroke:'#ff8080','stroke-width':2,'stroke-dasharray':'9,5'},g),'legend-swatch-fit047');
  nm(txt(dl[0]+54,dl[1],'<tspan font-style="italic">D</tspan><tspan font-size="9" dy="3">jet</tspan><tspan dy="-3"> ∝ </tspan><tspan font-style="italic">r</tspan><tspan dy="-6" font-size="9">0.47</tspan>',14,'start',g),'legend-fit047');
  nm(el('line',{x1:dl[0],x2:dl[0]+42,y1:dl[1]+27,y2:dl[1]+27,stroke:'#808080','stroke-width':3.5,'stroke-dasharray':'3,4'},g),'legend-swatch-fit058');
  nm(txt(dl[0]+54,dl[1]+32,'<tspan font-style="italic">D</tspan><tspan font-size="9" dy="3">jet</tspan><tspan dy="-3"> ∝ </tspan><tspan font-style="italic">r</tspan><tspan dy="-6" font-size="9">0.58</tspan>',14,'start',g),'legend-fit058');
}
drawJet(67,rLeft,[madD_r10th,madD_r10e0,madD_r10e1,madD_r80th,madD_r80e0,madD_r80e1,madD_r160th,madD_r160e0,madD_r160e1],
  [madP_r10th,madP_r10e0,madP_r10e1,madP_r80th,madP_r80e0,madP_r80e1,madP_r160th,madP_r160e0,madP_r160e1],'mad',[388,1042]);
drawJet(671,rRight,[saneD_r10th,saneD_r10e0,saneD_r10e1,saneD_r80th,saneD_r80e0,saneD_r80e1,saneD_r160th,saneD_r160e0,saneD_r160e1],
  [saneP_r10th,saneP_r10e0,saneP_r10e1,saneP_r80th,saneP_r80e0,saneP_r80e1,saneP_r160th,saneP_r160e0,saneP_r160e1],'sane',[990,1110]);
</script>
</body></html>
